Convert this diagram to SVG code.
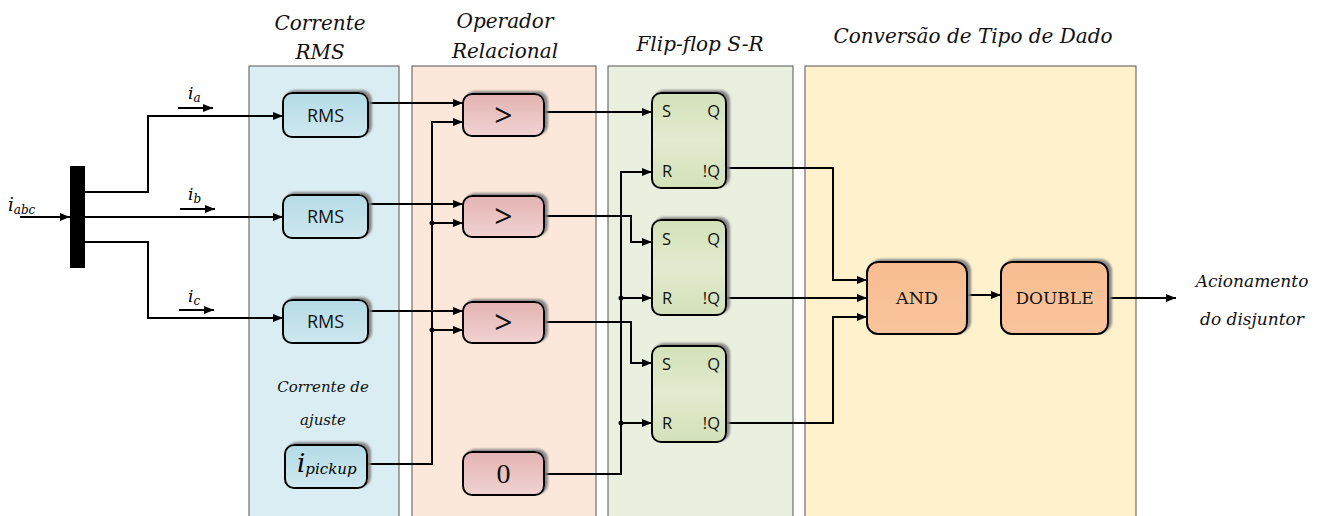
<svg xmlns="http://www.w3.org/2000/svg" width="1341" height="516" viewBox="0 0 1341 516">
  <defs>
    <marker id="arr" viewBox="0 0 10 8" refX="10" refY="4" markerWidth="10" markerHeight="8" markerUnits="userSpaceOnUse" orient="auto">
      <path d="M0,0 L10,4 L0,8 z" fill="#000"/>
    </marker>
    <filter id="shadow" x="-20%" y="-20%" width="140%" height="140%">
      <feGaussianBlur in="SourceAlpha" stdDeviation="1"/>
      <feOffset dx="3" dy="-2" result="o"/>
      <feFlood flood-color="#7f7f7f" flood-opacity="0.9"/>
      <feComposite in2="o" operator="in"/>
      <feMerge><feMergeNode/><feMergeNode in="SourceGraphic"/></feMerge>
    </filter>
    <linearGradient id="gBlue" x1="0" y1="0" x2="0" y2="1">
      <stop offset="0" stop-color="#b4dbe6"/>
      <stop offset="1" stop-color="#cfe8ef"/>
    </linearGradient>
    <linearGradient id="gRed" x1="0" y1="0" x2="0" y2="1">
      <stop offset="0" stop-color="#e3b3b2"/>
      <stop offset="1" stop-color="#f0d3d2"/>
    </linearGradient>
    <linearGradient id="gGreen" x1="0" y1="0" x2="0" y2="1">
      <stop offset="0" stop-color="#d3e1b8"/>
      <stop offset="0.5" stop-color="#e2ebcf"/>
      <stop offset="1" stop-color="#d3e1b8"/>
    </linearGradient>
    <linearGradient id="gOrange" x1="0" y1="0" x2="0" y2="1">
      <stop offset="0" stop-color="#f8bd91"/>
      <stop offset="1" stop-color="#f9c49c"/>
    </linearGradient>
  </defs>
  <style>
    .panel { stroke: #555; stroke-width: 1; }
    .box { stroke: #000; stroke-width: 2; filter: url(#shadow); }
    .wire { fill: none; stroke: #000; stroke-width: 2; }
    .arrow { marker-end: url(#arr); }
    .title { font-family: "DejaVu Serif", "Liberation Serif", serif; font-style: italic; font-size: 20px; text-anchor: middle; fill: #111; }
    .note { font-family: "DejaVu Serif", "Liberation Serif", serif; font-style: italic; font-size: 15px; text-anchor: middle; fill: #111; }
    .out { font-family: "DejaVu Serif", "Liberation Serif", serif; font-style: italic; font-size: 17px; text-anchor: middle; fill: #111; }
    .math { font-family: "DejaVu Serif", "Liberation Serif", serif; font-style: italic; fill: #000; }
    .sans { font-family: "Open Sans", "Liberation Sans", sans-serif; fill: #111; }
    .lbl { font-family: "Open Sans", "Liberation Sans", sans-serif; font-size: 16.5px; fill: #111; }
    .serif { font-family: "DejaVu Serif", "Liberation Serif", serif; fill: #111; }
    .dot { fill: #000; }
  </style>

  <!-- stage panels -->
  <g id="panels">
    <rect class="panel" x="249" y="66" width="150" height="460" fill="#daedf3"/>
    <rect class="panel" x="412" y="66" width="184" height="460" fill="#fce8da"/>
    <rect class="panel" x="608" y="66" width="185" height="460" fill="#e9f0df"/>
    <rect class="panel" x="805" y="66" width="331" height="460" fill="#fff1cc"/>
  </g>

  <!-- stage titles -->
  <g id="titles">
    <text class="title" x="320" y="30">Corrente</text>
    <text class="title" x="320" y="59">RMS</text>
    <text class="title" x="505" y="28">Operador</text>
    <text class="title" x="505" y="58">Relacional</text>
    <text class="title" x="700" y="51">Flip-flop S-R</text>
    <text class="title" x="973" y="43">Conversão de Tipo de Dado</text>
  </g>

  <!-- connectors -->
  <g id="connectors">
    <!-- three-phase input and split -->
    <line class="wire arrow" x1="20" y1="217" x2="70" y2="217"/>
    <polyline class="wire arrow" points="85,192 148,192 148,116 283,116"/>
    <line class="wire arrow" x1="85" y1="217" x2="283" y2="217"/>
    <polyline class="wire arrow" points="85,242 148,242 148,318 283,318"/>
    <line class="wire arrow" x1="178" y1="108" x2="213" y2="108"/>
    <line class="wire arrow" x1="180" y1="209" x2="215" y2="209"/>
    <line class="wire arrow" x1="179" y1="310" x2="214" y2="310"/>

    <!-- RMS to comparators -->
    <line class="wire arrow" x1="368" y1="103" x2="463" y2="103"/>
    <line class="wire arrow" x1="368" y1="204" x2="463" y2="204"/>
    <line class="wire arrow" x1="368" y1="311" x2="463" y2="311"/>

    <!-- pickup reference bus -->
    <polyline class="wire arrow" points="367,464 432,464 432,122 463,122"/>
    <line class="wire arrow" x1="432" y1="223" x2="463" y2="223"/>
    <line class="wire arrow" x1="432" y1="330" x2="463" y2="330"/>
    <circle class="dot" cx="432" cy="223" r="2.5"/>
    <circle class="dot" cx="432" cy="330" r="2.5"/>

    <!-- comparators to flip-flop S inputs -->
    <line class="wire arrow" x1="544" y1="112" x2="652" y2="112"/>
    <polyline class="wire arrow" points="544,216 631,216 631,242 652,242"/>
    <polyline class="wire arrow" points="544,322 631,322 631,363 652,363"/>

    <!-- zero constant to R inputs -->
    <polyline class="wire arrow" points="544,474 621,474 621,172 652,172"/>
    <line class="wire arrow" x1="621" y1="298" x2="652" y2="298"/>
    <line class="wire arrow" x1="621" y1="423" x2="652" y2="423"/>
    <circle class="dot" cx="621" cy="298" r="2.5"/>
    <circle class="dot" cx="621" cy="423" r="2.5"/>

    <!-- !Q outputs to AND -->
    <polyline class="wire arrow" points="726,168 833,168 833,280 867,280"/>
    <line class="wire arrow" x1="726" y1="298" x2="867" y2="298"/>
    <polyline class="wire arrow" points="726,423 833,423 833,317 867,317"/>

    <!-- AND to DOUBLE to output -->
    <line class="wire arrow" x1="967" y1="295" x2="1001" y2="295"/>
    <line class="wire arrow" x1="1108" y1="298" x2="1176" y2="298"/>
  </g>

  <!-- input bus bar -->
  <g id="bus">
    <rect x="70" y="166" width="15" height="102" fill="#000"/>
    <text class="math" x="8" y="211" font-size="18">i<tspan font-size="12" dy="3">abc</tspan></text>
    <text class="math" x="188" y="99" font-size="17">i<tspan font-size="12" dy="3">a</tspan></text>
    <text class="math" x="188" y="200" font-size="17">i<tspan font-size="12" dy="3">b</tspan></text>
    <text class="math" x="188" y="302" font-size="17">i<tspan font-size="12" dy="3">c</tspan></text>
  </g>

  <!-- RMS blocks -->
  <g id="rms-a">
    <rect class="box" x="283" y="93" width="85" height="44" rx="9" fill="url(#gBlue)"/>
    <text class="sans" x="325.5" y="121.5" font-size="18" text-anchor="middle">RMS</text>
  </g>
  <g id="rms-b">
    <rect class="box" x="283" y="195" width="85" height="43" rx="9" fill="url(#gBlue)"/>
    <text class="sans" x="325.5" y="223" font-size="18" text-anchor="middle">RMS</text>
  </g>
  <g id="rms-c">
    <rect class="box" x="283" y="300" width="85" height="43" rx="9" fill="url(#gBlue)"/>
    <text class="sans" x="325.5" y="328" font-size="18" text-anchor="middle">RMS</text>
  </g>

  <!-- pickup setting -->
  <g id="pickup">
    <text class="note" x="323" y="392">Corrente de</text>
    <text class="note" x="323" y="425">ajuste</text>
    <rect class="box" x="285" y="445" width="82" height="43" rx="9" fill="url(#gBlue)"/>
    <text class="math" x="297" y="472" font-size="26">i<tspan font-size="15" dy="2">pickup</tspan></text>
  </g>

  <!-- comparators -->
  <g id="cmp-a">
    <rect class="box" x="463" y="94" width="81" height="42" rx="9" fill="url(#gRed)"/>
    <text class="sans" x="503.5" y="127" font-size="32" text-anchor="middle">&gt;</text>
  </g>
  <g id="cmp-b">
    <rect class="box" x="463" y="196" width="81" height="41" rx="9" fill="url(#gRed)"/>
    <text class="sans" x="503.5" y="228" font-size="32" text-anchor="middle">&gt;</text>
  </g>
  <g id="cmp-c">
    <rect class="box" x="463" y="302" width="81" height="41" rx="9" fill="url(#gRed)"/>
    <text class="sans" x="503.5" y="334" font-size="32" text-anchor="middle">&gt;</text>
  </g>
  <g id="zero">
    <rect class="box" x="463" y="452" width="81" height="43" rx="9" fill="url(#gRed)"/>
    <text x="503.5" y="483" font-size="28" text-anchor="middle" font-family="Liberation Serif, serif" fill="#111">0</text>
  </g>

  <!-- S-R flip-flops -->
  <g id="ff-a">
    <rect class="box" x="652" y="93" width="74" height="95" rx="9" fill="url(#gGreen)"/>
    <text class="lbl" x="662" y="117">S</text>
    <text class="lbl" x="720" y="117" text-anchor="end">Q</text>
    <text class="lbl" x="662" y="177">R</text>
    <text class="lbl" x="720" y="177" text-anchor="end">!Q</text>
  </g>
  <g id="ff-b">
    <rect class="box" x="652" y="220" width="74" height="95" rx="9" fill="url(#gGreen)"/>
    <text class="lbl" x="662" y="245">S</text>
    <text class="lbl" x="720" y="245" text-anchor="end">Q</text>
    <text class="lbl" x="662" y="304">R</text>
    <text class="lbl" x="720" y="304" text-anchor="end">!Q</text>
  </g>
  <g id="ff-c">
    <rect class="box" x="652" y="346" width="74" height="96" rx="9" fill="url(#gGreen)"/>
    <text class="lbl" x="662" y="370">S</text>
    <text class="lbl" x="720" y="370" text-anchor="end">Q</text>
    <text class="lbl" x="662" y="429">R</text>
    <text class="lbl" x="720" y="429" text-anchor="end">!Q</text>
  </g>

  <!-- logic and type conversion -->
  <g id="and">
    <rect class="box" x="867" y="262" width="100" height="72" rx="11" fill="url(#gOrange)"/>
    <text class="serif" x="917" y="304" font-size="17.5" text-anchor="middle">AND</text>
  </g>
  <g id="double">
    <rect class="box" x="1001" y="262" width="107" height="72" rx="11" fill="url(#gOrange)"/>
    <text class="serif" x="1054.5" y="304" font-size="17" text-anchor="middle">DOUBLE</text>
  </g>

  <!-- breaker trip output -->
  <g id="output">
    <text class="out" x="1252" y="287">Acionamento</text>
    <text class="out" x="1252" y="325">do disjuntor</text>
  </g>
</svg>
